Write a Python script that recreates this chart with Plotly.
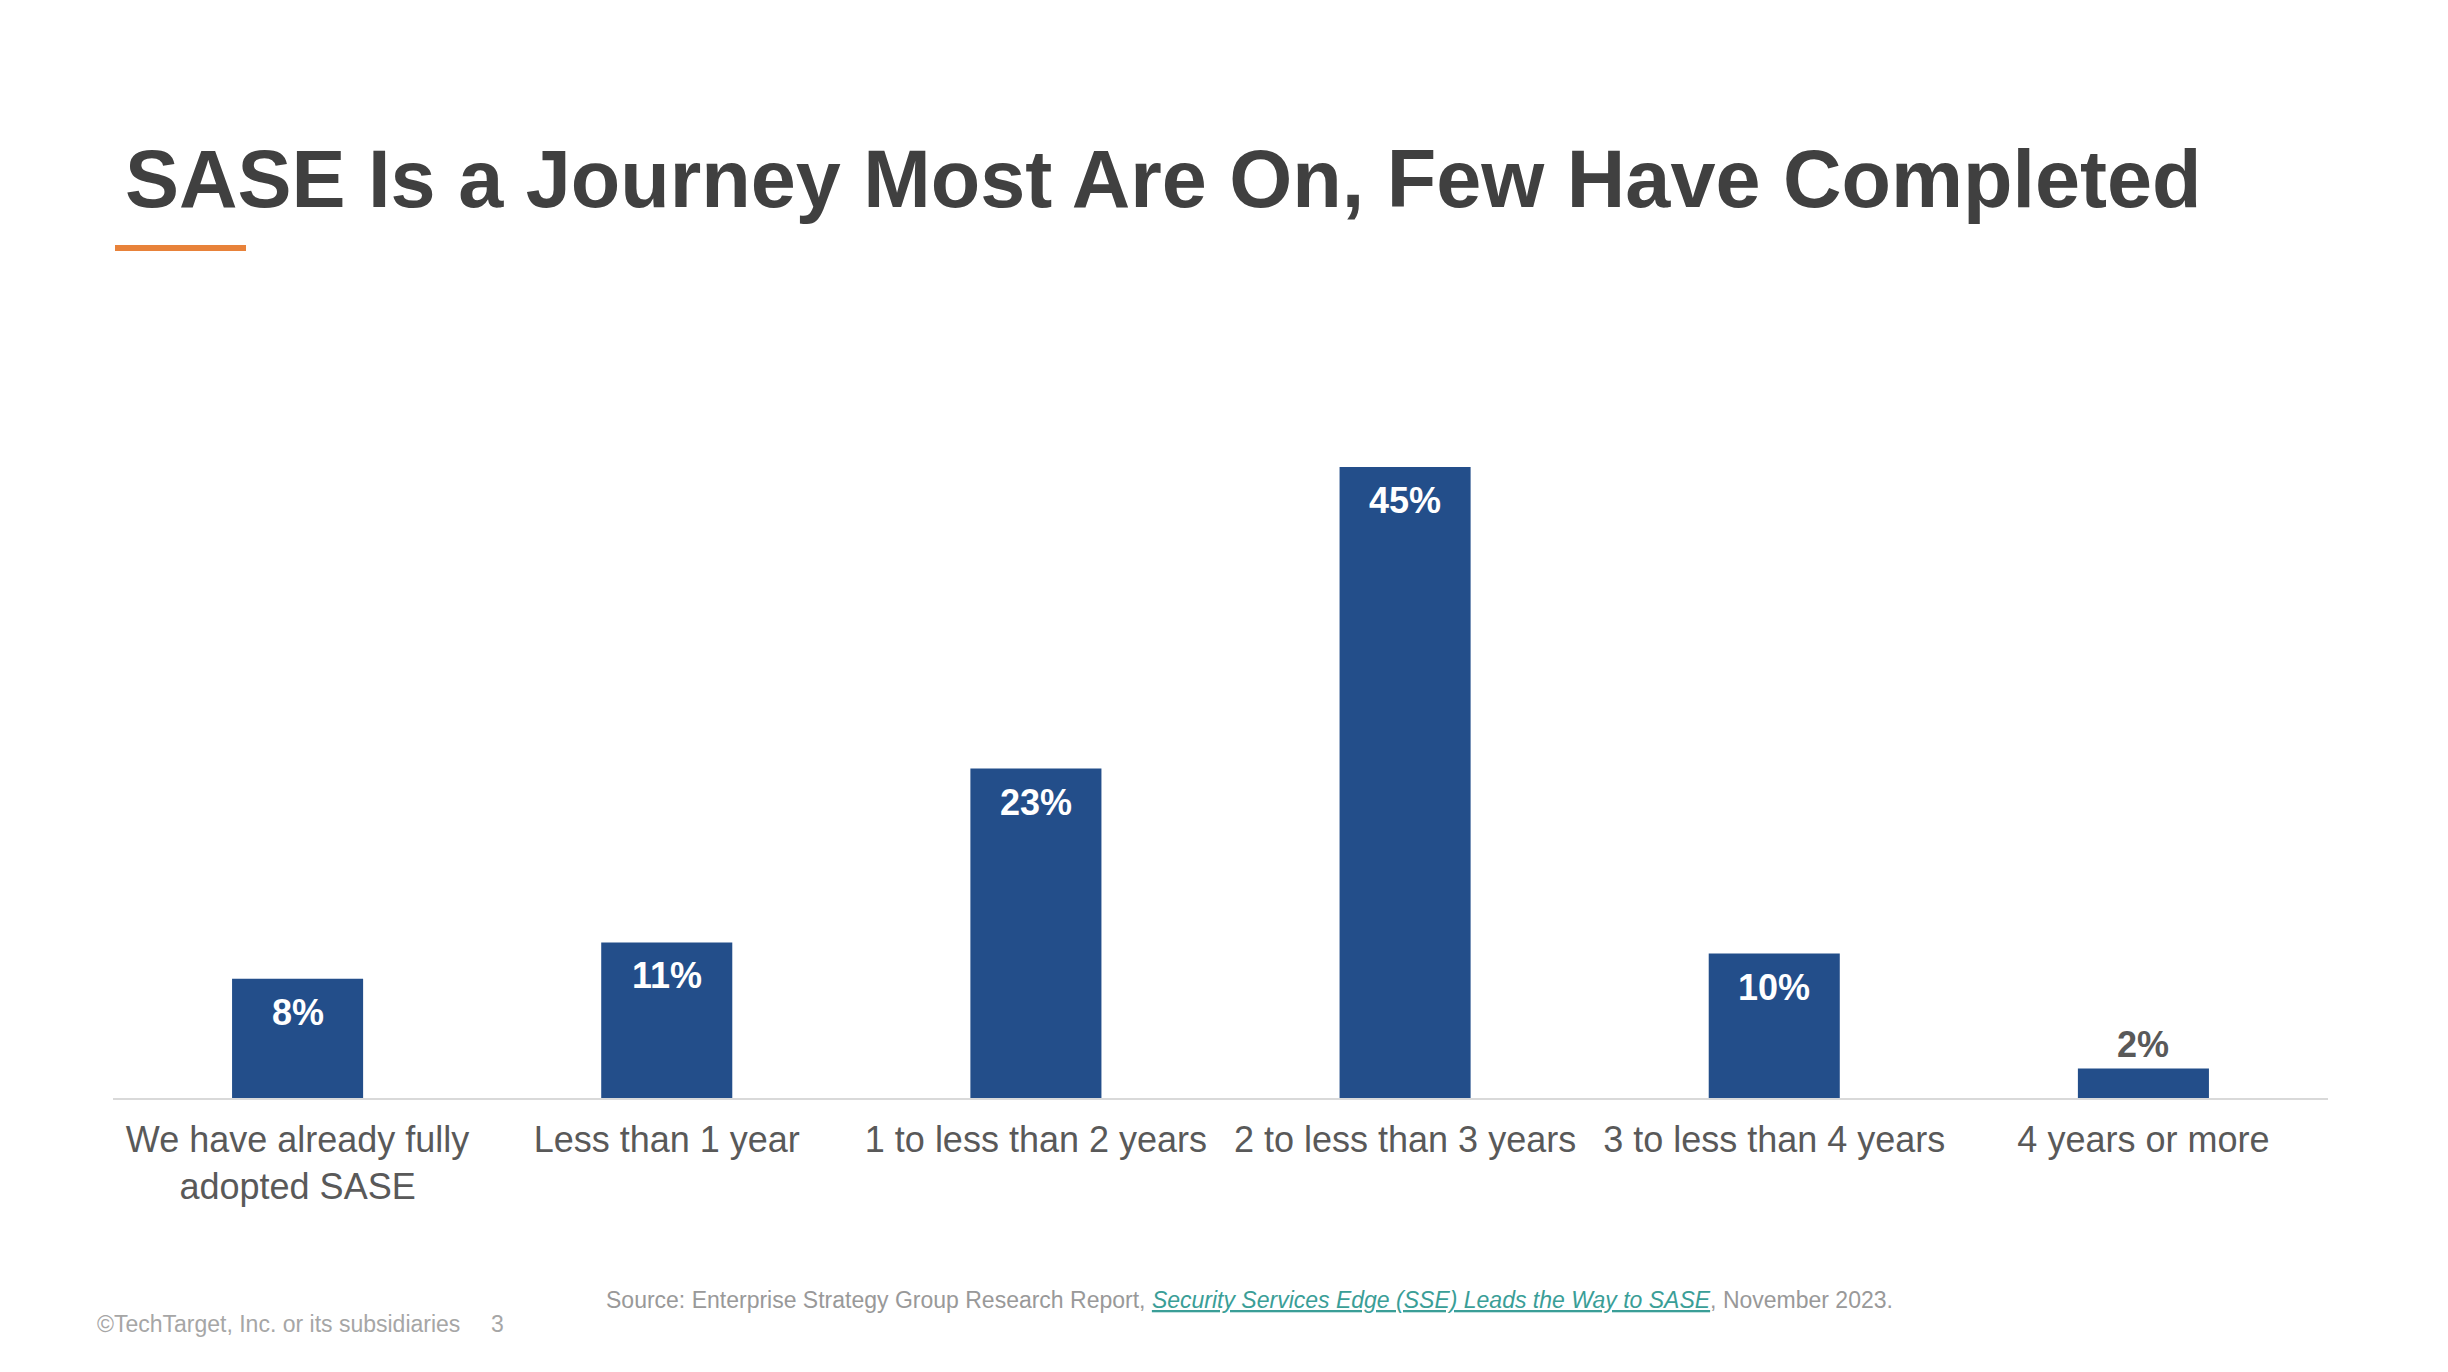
import plotly.graph_objects as go

# ---- data ----
categories = [
    "We have already fully<br>adopted SASE",
    "Less than 1 year",
    "1 to less than 2 years",
    "2 to less than 3 years",
    "3 to less than 4 years",
    "4 years or more",
]
# bar heights (unrounded), and their printed labels
values = [8.5, 11.1, 23.5, 45.0, 10.3, 2.1]
value_labels = ["8%", "11%", "23%", "45%", "10%", "2%"]
label_inside = [True, True, True, True, True, False]

title_text = "SASE Is a Journey Most Are On, Few Have Completed"
source_text = ("Source: Enterprise Strategy Group Research Report, "
               "<span style='color:#3A9E97'><i><u>Security Services Edge (SSE) Leads the Way to SASE</u></i></span>"
               ", November 2023.")
footer_text = "©TechTarget, Inc. or its subsidiaries"
page_number = "3"

# ---- layout geometry (pixels, page coordinates; page body has an 8px offset) ----
OFF = 8
W, H = 2448 - OFF, 1372 - OFF
PLOT_L, PLOT_R, PLOT_T, PLOT_B = 113, 2328, 397, 1098.5
ML = PLOT_L - OFF
MR = W - (PLOT_R - OFF)
MT = PLOT_T - OFF
MB = H - (PLOT_B - OFF)
PW = PLOT_R - PLOT_L
PH = PLOT_B - PLOT_T


def px_x(x):
    return (x - PLOT_L) / PW


def px_y(y):
    return (PLOT_B - y) / PH


FONT = "Liberation Sans, Arial, sans-serif"
BAR = "#234E8A"

fig = go.Figure(
    go.Bar(
        x=categories,
        y=values,
        marker=dict(color=BAR, line=dict(width=0)),
        hoverinfo="skip",
    )
)

annotations = []
for c, v, lab, inside in zip(categories, values, value_labels, label_inside):
    annotations.append(dict(
        x=c, y=v, xref="x", yref="y",
        text=f"<b>{lab}</b>",
        showarrow=False,
        yanchor="top" if inside else "bottom",
        yshift=-11 if inside else 2,
        font=dict(family=FONT, size=36, color="white" if inside else "#595959"),
    ))

annotations += [
    dict(xref="paper", yref="paper", x=px_x(123), y=px_y(226),
         xanchor="left", yanchor="bottom", showarrow=False,
         text=f"<b>{title_text}</b>",
         font=dict(family=FONT, size=81, color="#404040")),
    dict(xref="paper", yref="paper", x=px_x(1249), y=px_y(1301),
         xanchor="center", yanchor="middle", showarrow=False,
         text=source_text,
         font=dict(family=FONT, size=23, color="#999999")),
    dict(xref="paper", yref="paper", x=px_x(95), y=px_y(1325),
         xanchor="left", yanchor="middle", showarrow=False,
         text=footer_text,
         font=dict(family=FONT, size=23, color="#A6A6A6")),
    dict(xref="paper", yref="paper", x=px_x(489), y=px_y(1325),
         xanchor="left", yanchor="middle", showarrow=False,
         text=page_number,
         font=dict(family=FONT, size=23, color="#A6A6A6")),
]

fig.update_layout(
    width=W, height=H,
    margin=dict(l=ML, r=MR, t=MT, b=MB, pad=0),
    paper_bgcolor="white", plot_bgcolor="white",
    bargap=0.645,
    showlegend=False,
    annotations=annotations,
    shapes=[dict(type="rect", xref="paper", yref="paper",
                 x0=px_x(115), x1=px_x(246), y0=px_y(251), y1=px_y(245),
                 fillcolor="#E8823A", line=dict(width=0))],
    font=dict(family=FONT),
)
fig.update_xaxes(
    showline=True, linecolor="#D9D9D9", linewidth=2,
    showgrid=False, ticks="", zeroline=False,
    ticklabelstandoff=9,
    tickfont=dict(family=FONT, size=36, color="#595959"),
)
fig.update_yaxes(
    range=[0, 50], visible=False, showgrid=False, zeroline=False,
)

fig.write_html("out.html")
